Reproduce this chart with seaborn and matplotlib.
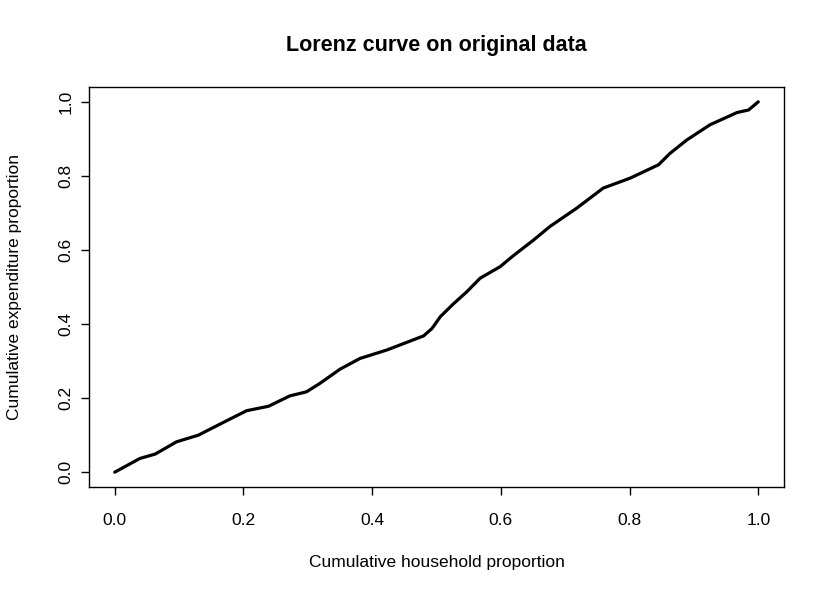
import matplotlib
matplotlib.use("Agg")
import matplotlib.pyplot as plt
import seaborn as sns
import pandas as pd

# Data
household_prop = [0.0, 0.039, 0.063, 0.096, 0.130, 0.148, 0.174, 0.205, 0.239, 0.272,
                  0.298, 0.319, 0.350, 0.381, 0.423, 0.480, 0.493, 0.506, 0.526, 0.547,
                  0.568, 0.599, 0.619, 0.651, 0.676, 0.718, 0.759, 0.801, 0.845, 0.863,
                  0.889, 0.925, 0.967, 0.985, 1.0]
expenditure_prop = [0.0, 0.037, 0.049, 0.082, 0.100, 0.116, 0.139, 0.166, 0.178, 0.206,
                    0.217, 0.240, 0.278, 0.307, 0.330, 0.368, 0.388, 0.420, 0.454, 0.487,
                    0.524, 0.555, 0.584, 0.627, 0.663, 0.713, 0.767, 0.794, 0.830, 0.861,
                    0.897, 0.938, 0.971, 0.978, 1.0]
ticks = [0.0, 0.2, 0.4, 0.6, 0.8, 1.0]
tick_labels = ["0.0", "0.2", "0.4", "0.6", "0.8", "1.0"]

sns.set_style("ticks")
plt.rcParams['font.family'] = ['Liberation Sans', 'DejaVu Sans']
plt.rcParams['text.color'] = 'black'
plt.rcParams['axes.labelcolor'] = 'black'

df = pd.DataFrame({"x": household_prop, "y": expenditure_prop})

fig = plt.figure(figsize=(8.3, 5.96), dpi=100)
ax = fig.add_axes([89/830, 1-487/596, 695/830, 400/596])

sns.lineplot(data=df, x="x", y="y", sort=False, color="black", linewidth=2.3, ax=ax,
             estimator=None)

ax.set_xlim(-0.04, 1.04)
ax.set_ylim(-0.04, 1.04)
ax.set_xticks(ticks)
ax.set_xticklabels(tick_labels)
ax.set_yticks(ticks)
ax.set_yticklabels(tick_labels, rotation=90, va="center")

for s in ax.spines.values():
    s.set_visible(True)
    s.set_color("black")
    s.set_linewidth(1.0)

ax.tick_params(axis="both", direction="out", length=6, width=1.0, colors="black",
               labelcolor="black", labelsize=12.5)
ax.tick_params(axis="x", pad=13)
ax.tick_params(axis="y", pad=5)

ax.set_xlabel("Cumulative household proportion", fontsize=12.5, color="black")
ax.set_ylabel("Cumulative expenditure proportion", fontsize=12.5, color="black")
ax.xaxis.set_label_coords(0.5, (487-563)/400)
ax.xaxis.label.set_va("center")
ax.yaxis.set_label_coords((15-89)/695, 0.5)
ax.yaxis.label.set_va("center")

fig.text(0.5 * (89+784)/830, 1-45/596, "Lorenz curve on original data",
         ha="center", va="center", fontsize=15.5, fontweight="bold", color="black")

fig.savefig("out.png", dpi=100)
